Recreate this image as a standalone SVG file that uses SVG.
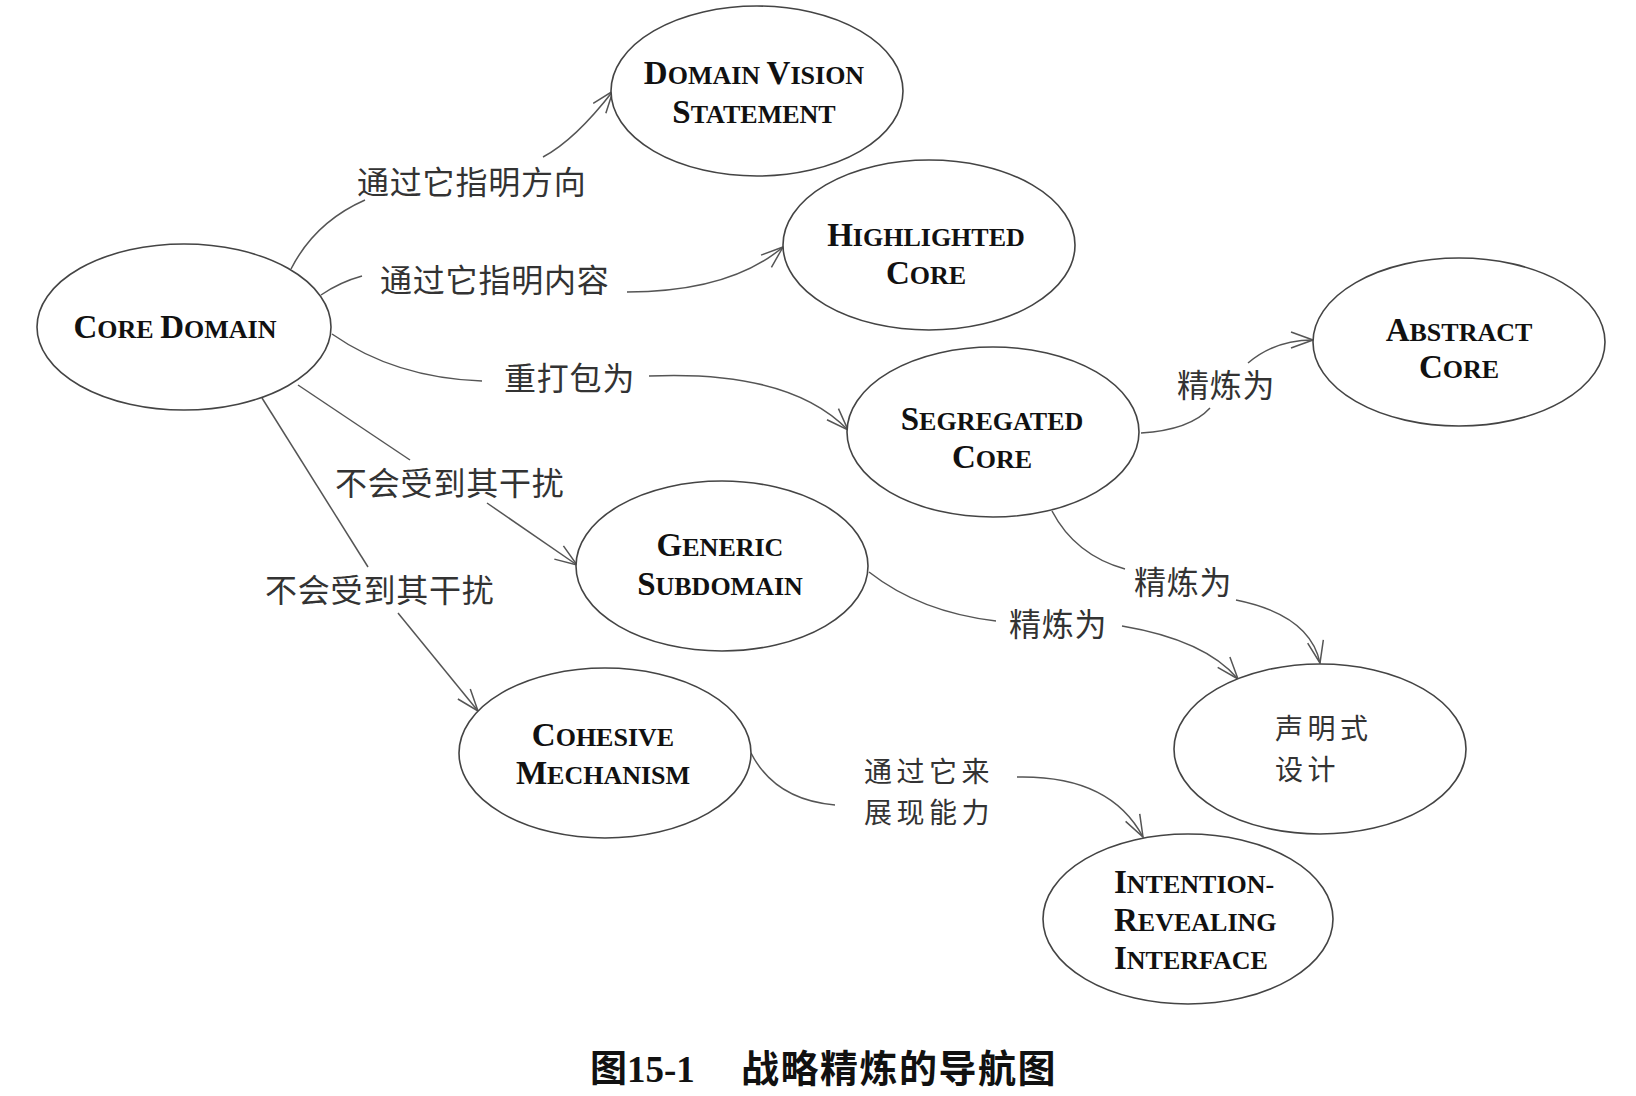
<svg xmlns="http://www.w3.org/2000/svg" width="1636" height="1096" viewBox="0 0 1636 1096">
<style>
.node ellipse{fill:#fff;stroke:#444;stroke-width:1.6}
.nt{font-family:"Liberation Serif","Times New Roman",serif;font-weight:bold;font-size:26px;fill:#111;text-anchor:middle}
.nt .b{font-size:33px}
.nl{font-family:"Liberation Serif","Times New Roman",serif;font-weight:bold;font-size:26px;fill:#111}
.nl .b{font-size:33px}
.cn{font-family:"Noto Sans CJK SC","Liberation Sans",sans-serif;font-size:32px;letter-spacing:0.8px;fill:#333}
.cn2{font-family:"Noto Sans CJK SC","Liberation Sans",sans-serif;font-size:28px;letter-spacing:4.5px;fill:#333}
.edges path{fill:none;stroke:#555;stroke-width:1.5}
.cap{font-family:"Liberation Serif","Noto Sans CJK SC",serif;font-weight:bold;font-size:37px;fill:#111}
.capcn{font-family:"Noto Sans CJK SC",sans-serif;font-weight:bold}
</style>
<defs>
<marker id="arr" viewBox="0 0 24 18" refX="23" refY="9" markerWidth="24" markerHeight="18" markerUnits="userSpaceOnUse" orient="auto">
<path d="M1,1 L23,9 L1,17" fill="none" stroke="#555" stroke-width="1.5"/>
</marker>
</defs>
<rect width="1636" height="1096" fill="#fff"/>

<g id="edges" class="edges">
<path d="M291,269 Q315,222 365,200"/>
<path d="M543,157 Q575,140 613,91" marker-end="url(#arr)"/>
<path d="M321,295 Q340,282 362,276"/>
<path d="M627,292 Q730,292 783,247" marker-end="url(#arr)"/>
<path d="M332,334 Q395,378 482,381"/>
<path d="M649,376 Q790,370 848,430" marker-end="url(#arr)"/>
<path d="M298,385 L410,460"/>
<path d="M487,503 L577,565" marker-end="url(#arr)"/>
<path d="M262,398 L368,567"/>
<path d="M398,613 L478,711" marker-end="url(#arr)"/>
<path d="M1141,433 Q1190,430 1210,408"/>
<path d="M1248,363 Q1275,340 1313,340" marker-end="url(#arr)"/>
<path d="M1052,511 Q1075,555 1125,569"/>
<path d="M1236,600 Q1310,615 1320,663" marker-end="url(#arr)"/>
<path d="M869,572 Q920,612 996,621"/>
<path d="M1122,626 Q1205,640 1238,679" marker-end="url(#arr)"/>
<path d="M751,753 Q775,800 835,805"/>
<path d="M1017,777 Q1110,775 1143,837" marker-end="url(#arr)"/>
</g>

<g id="edge-labels">
<text class="cn" x="357" y="194">通过它指明方向</text>
<text class="cn" x="380" y="292">通过它指明内容</text>
<text class="cn" x="504" y="390">重打包为</text>
<text class="cn" x="335" y="495">不会受到其干扰</text>
<text class="cn" x="265" y="602">不会受到其干扰</text>
<text class="cn" x="1177" y="397">精炼为</text>
<text class="cn" x="1134" y="594">精炼为</text>
<text class="cn" x="1009" y="636">精炼为</text>
<text class="cn2" x="864" y="782">通过它来</text>
<text class="cn2" x="864" y="823">展现能力</text>
</g>

<g id="core-domain" class="node">
<ellipse cx="184" cy="327" rx="147" ry="83"/>
<text class="nt" x="175" y="338"><tspan class="b">C</tspan>ORE <tspan class="b">D</tspan>OMAIN</text>
</g>
<g id="domain-vision-statement" class="node">
<ellipse cx="757" cy="91" rx="146" ry="85"/>
<text class="nt" x="754" y="84"><tspan class="b">D</tspan>OMAIN <tspan class="b">V</tspan>ISION</text>
<text class="nt" x="754" y="123"><tspan class="b">S</tspan>TATEMENT</text>
</g>
<g id="highlighted-core" class="node">
<ellipse cx="929" cy="245" rx="146" ry="85"/>
<text class="nt" x="926" y="246"><tspan class="b">H</tspan>IGHLIGHTED</text>
<text class="nt" x="926" y="284"><tspan class="b">C</tspan>ORE</text>
</g>
<g id="abstract-core" class="node">
<ellipse cx="1459" cy="342" rx="146" ry="84"/>
<text class="nt" x="1459" y="341"><tspan class="b">A</tspan>BSTRACT</text>
<text class="nt" x="1459" y="378"><tspan class="b">C</tspan>ORE</text>
</g>
<g id="segregated-core" class="node">
<ellipse cx="993" cy="432" rx="146" ry="85"/>
<text class="nt" x="992" y="430"><tspan class="b">S</tspan>EGREGATED</text>
<text class="nt" x="992" y="468"><tspan class="b">C</tspan>ORE</text>
</g>
<g id="generic-subdomain" class="node">
<ellipse cx="722" cy="566" rx="146" ry="85"/>
<text class="nt" x="720" y="556"><tspan class="b">G</tspan>ENERIC</text>
<text class="nt" x="720" y="595"><tspan class="b">S</tspan>UBDOMAIN</text>
</g>
<g id="cohesive-mechanism" class="node">
<ellipse cx="605" cy="753" rx="146" ry="85"/>
<text class="nt" x="603" y="746"><tspan class="b">C</tspan>OHESIVE</text>
<text class="nt" x="603" y="784"><tspan class="b">M</tspan>ECHANISM</text>
</g>
<g id="declarative-design" class="node">
<ellipse cx="1320" cy="749" rx="146" ry="85"/>
<text class="cn2" x="1275" y="739">声明式</text>
<text class="cn2" x="1275" y="780">设计</text>
</g>
<g id="intention-revealing-interface" class="node">
<ellipse cx="1188" cy="919" rx="145" ry="85"/>
<text class="nl" x="1114" y="893"><tspan class="b">I</tspan>NTENTION-</text>
<text class="nl" x="1114" y="931"><tspan class="b">R</tspan>EVEALING</text>
<text class="nl" x="1114" y="969"><tspan class="b">I</tspan>NTERFACE</text>
</g>

<g id="caption">
<text class="cap" x="590" y="1082"><tspan class="capcn">图</tspan>15-1</text>
<text class="cap capcn" x="741" y="1082" style="font-size:38px;letter-spacing:1.5px">战略精炼的导航图</text>
</g>
</svg>
